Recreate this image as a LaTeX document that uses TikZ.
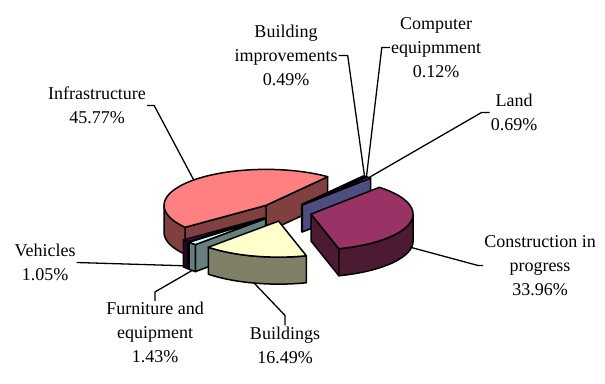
\documentclass[tikz,border=0pt]{standalone}
\usepackage{fontspec}
\setmainfont{Liberation Serif}
\definecolor{infraT}{HTML}{FF8080}
\definecolor{infraS}{HTML}{804040}
\definecolor{consT}{HTML}{993366}
\definecolor{consS}{HTML}{4D1A33}
\definecolor{bldgT}{HTML}{FFFFCC}
\definecolor{bldgS}{HTML}{808066}
\definecolor{furnT}{HTML}{CCFFFF}
\definecolor{furnS}{HTML}{668080}
\definecolor{vehT}{HTML}{660066}
\definecolor{vehS}{HTML}{330033}
\definecolor{landT}{HTML}{9999FF}
\definecolor{landS}{HTML}{4D4D80}
\definecolor{bimpT}{HTML}{0066CC}
\definecolor{bimpS}{HTML}{003366}
\definecolor{compT}{HTML}{CCCCFF}
\definecolor{compS}{HTML}{666680}
\begin{document}
\begin{tikzpicture}[x=1pt,y=1pt,x radius=102,y radius=36,line join=round,
    face/.style={draw=black,line width=1.5pt},
    lbl/.style={align=center,inner sep=1pt,font=\fontsize{18}{24}\selectfont},
    lead/.style={draw=black,line width=1.3pt}]
  \useasboundingbox (0,0) rectangle (605,-383);
  % labels
  \node[lbl] (lInfra) at (97,-105.5) {Infrastructure\\45.77\%};
  \node[lbl] (lBimp) at (286,-55.5) {Building\\improvements\\0.49\%};
  \node[lbl] (lComp) at (436,-47.5) {Computer\\equipmment\\0.12\%};
  \node[lbl] (lLand) at (514,-112.5) {Land\\0.69\%};
  \node[lbl] (lCons) at (540,-265.5) {Construction in\\progress\\33.96\%};
  \node[lbl] (lBldg) at (285,-345) {Buildings\\16.49\%};
  \node[lbl] (lFurn) at (155,-332.5) {Furniture and\\equipment\\1.43\%};
  \node[lbl] (lVeh) at (45,-262.5) {Vehicles\\1.05\%};
  % exploded slices, back to front
  \begin{scope}[shift={(285,-212)}]
    \begin{scope}[shift={(135.13:26.8 and 9.4)}]
      \filldraw[face,fill=infraS] (0,0) -- (52.75:102 and 36) -- ++(0,-27) -- (0,-27) -- cycle;
      \filldraw[face,fill=infraS] (0,0) -- (217.52:102 and 36) -- ++(0,-27) -- (0,-27) -- cycle;
      \filldraw[face,fill=infraS] (180:102 and 36) arc[start angle=180,end angle=217.52] -- ++(0,-27) arc[start angle=217.52,end angle=180] -- cycle;
      \filldraw[face,fill=infraT] (0,0) -- (52.75:102 and 36) arc[start angle=52.75,end angle=217.52] -- cycle;
      \coordinate (pInfra) at (135.13:102 and 36);
    \end{scope}
    \begin{scope}[shift={(51.86:26.8 and 9.4)}]
      \filldraw[face,fill=bimpS] (0,0) -- (50.98:102 and 36) -- ++(0,-27) -- (0,-27) -- cycle;
      \filldraw[face,fill=bimpT] (0,0) -- (50.98:102 and 36) arc[start angle=50.98,end angle=52.75] -- cycle;
      \coordinate (pBimp) at (51.86:102 and 36);
    \end{scope}
    \begin{scope}[shift={(50.77:26.8 and 9.4)}]
      \filldraw[face,fill=compS] (0,0) -- (50.55:102 and 36) -- ++(0,-27) -- (0,-27) -- cycle;
      \filldraw[face,fill=compT] (0,0) -- (50.55:102 and 36) arc[start angle=50.55,end angle=50.98] -- cycle;
      \coordinate (pComp) at (50.77:102 and 36);
    \end{scope}
    \begin{scope}[shift={(49.31:26.8 and 9.4)}]
      \filldraw[face,fill=landS] (0,0) -- (48.07:102 and 36) -- ++(0,-27) -- (0,-27) -- cycle;
      \filldraw[face,fill=landT] (0,0) -- (48.07:102 and 36) arc[start angle=48.07,end angle=50.55] -- cycle;
      \coordinate (pLand) at (49.31:102 and 36);
    \end{scope}
    \begin{scope}[shift={(-13.06:26.8 and 9.4)}]
      \filldraw[face,fill=consS] (0,0) -- (-74.19:102 and 36) -- ++(0,-27) -- (0,-27) -- cycle;
      \filldraw[face,fill=consS] (-74.19:102 and 36) arc[start angle=-74.19,end angle=0] -- ++(0,-27) arc[start angle=0,end angle=-74.19] -- cycle;
      \filldraw[face,fill=consT] (0,0) -- (-74.19:102 and 36) arc[start angle=-74.19,end angle=48.07] -- cycle;
      \coordinate (pCons) at ([shift={(0,-25)}]-13.06:102 and 36);
    \end{scope}
    \begin{scope}[shift={(-140.59:26.8 and 9.4)}]
      \filldraw[face,fill=vehS] (0,0) -- (-138.70:102 and 36) -- ++(0,-27) -- (0,-27) -- cycle;
      \filldraw[face,fill=vehS] (-142.48:102 and 36) arc[start angle=-142.48,end angle=-138.70] -- ++(0,-27) arc[start angle=-138.70,end angle=-142.48] -- cycle;
      \filldraw[face,fill=vehT] (0,0) -- (-142.48:102 and 36) arc[start angle=-142.48,end angle=-138.70] -- cycle;
      \coordinate (pVeh) at ([shift={(0,-25)}]-140.59:102 and 36);
    \end{scope}
    \begin{scope}[shift={(-136.13:26.8 and 9.4)}]
      \filldraw[face,fill=furnS] (0,0) -- (-133.55:102 and 36) -- ++(0,-27) -- (0,-27) -- cycle;
      \filldraw[face,fill=furnS] (-138.70:102 and 36) arc[start angle=-138.70,end angle=-133.55] -- ++(0,-27) arc[start angle=-133.55,end angle=-138.70] -- cycle;
      \filldraw[face,fill=furnT] (0,0) -- (-138.70:102 and 36) arc[start angle=-138.70,end angle=-133.55] -- cycle;
      \coordinate (pFurn) at ([shift={(0,-27)}]-136.13:102 and 36);
    \end{scope}
    \begin{scope}[shift={(-103.87:26.8 and 9.4)}]
      \filldraw[face,fill=bldgS] (-133.55:102 and 36) arc[start angle=-133.55,end angle=-74.19] -- ++(0,-27) arc[start angle=-74.19,end angle=-133.55] -- cycle;
      \filldraw[face,fill=bldgT] (0,0) -- (-133.55:102 and 36) arc[start angle=-133.55,end angle=-74.19] -- cycle;
      \coordinate (pBldg) at ([shift={(0,-27)}]-103.87:102 and 36);
    \end{scope}
  \end{scope}
  % leader lines
  \draw[lead] (lInfra.east) -- ++(7,0) -- (pInfra);
  \draw[lead] (lBimp.east) -- ++(9,0) -- (pBimp);
  \draw[lead] (lComp.west) -- ++(-8,0) -- (pComp);
  \draw[lead] (lLand.west) -- ++(-8,0) -- (pLand);
  \draw[lead] (lCons.west) -- ++(-5,0) -- (pCons);
  \draw[lead] (lBldg.north) -- ++(0,10) -- (pBldg);
  \draw[lead] (lFurn.north) -- ++(0,9) -- (pFurn);
  \draw[lead] (lVeh.east) -- (pVeh);
\end{tikzpicture}
\end{document}
